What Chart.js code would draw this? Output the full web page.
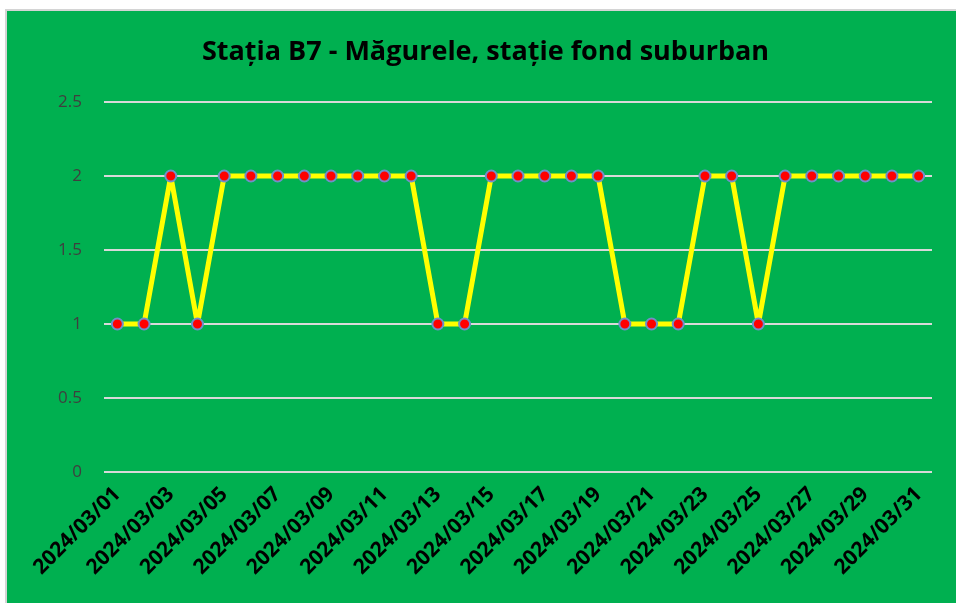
<!DOCTYPE html>
<html><head><meta charset="utf-8">
<script src="https://cdn.jsdelivr.net/npm/chart.js@4/dist/chart.umd.min.js"></script>
<style>
html,body{margin:0;padding:0;background:#fff;width:956px;height:603px;overflow:hidden}
#wrap{position:absolute;left:5px;top:9px;width:949px;height:592px;border-left:2px solid #d4d4d4;border-top:2px solid #d4d4d4;background:#00B050}
canvas{display:block}
</style></head><body>
<div id="wrap"><canvas id="c" width="949" height="592"></canvas></div>
<script>
const titleText = "Stația B7 - Măgurele, stație fond suburban";
const categories = ["2024/03/01","2024/03/02","2024/03/03","2024/03/04","2024/03/05","2024/03/06","2024/03/07","2024/03/08","2024/03/09","2024/03/10","2024/03/11","2024/03/12","2024/03/13","2024/03/14","2024/03/15","2024/03/16","2024/03/17","2024/03/18","2024/03/19","2024/03/20","2024/03/21","2024/03/22","2024/03/23","2024/03/24","2024/03/25","2024/03/26","2024/03/27","2024/03/28","2024/03/29","2024/03/30","2024/03/31"];
const values = [1,1,2,1,2,2,2,2,2,2,2,2,1,1,2,2,2,2,2,1,1,1,2,2,1,2,2,2,2,2,2];
const yTicks = [0,0.5,1,1.5,2,2.5];

const shiftTitle = {
  id: 'shiftTitle',
  afterLayout(chart) {
    if (chart.titleBlock) { chart.titleBlock.right += 32; }
  }
};

new Chart(document.getElementById('c'), {
  type: 'line',
  data: { labels: categories, datasets: [{
    data: values,
    borderColor: '#FFFF00',
    borderWidth: 5,
    borderJoinStyle: 'round',
    borderCapStyle: 'round',
    pointBackgroundColor: '#FF0000',
    pointBorderColor: '#6F8FC9',
    pointBorderWidth: 2,
    pointRadius: 5.5,
    tension: 0
  }]},
  options: {
    responsive: false,
    animation: false,
    layout: { padding: { left: 0, right: 24, top: 0, bottom: 0 } },
    plugins: {
      legend: { display: false },
      tooltip: { enabled: false },
      title: {
        display: true, text: titleText, color: '#000',
        font: { family: '"Open Sans",sans-serif', size: 27, weight: 'bold', lineHeight: 1.2 },
        padding: { top: 25, bottom: 33.6 }
      }
    },
    scales: {
      x: {
        offset: true,
        grid: { display: false, drawTicks: false },
        border: { display: false },
        ticks: {
          autoSkip: false, maxRotation: 45, minRotation: 45, padding: 10,
          color: '#000',
          font: { family: '"Open Sans",sans-serif', size: 21, weight: 'bold' },
          callback: function(v, i) { return i % 2 === 0 ? categories[i] : ''; }
        },
        afterFit: function(s) { s.height = 131; }
      },
      y: {
        min: 0, max: 2.5,
        afterBuildTicks: function(s) { s.ticks = yTicks.map(v => ({ value: v })); },
        grid: { color: '#D9D9D9', lineWidth: 2, drawTicks: false },
        border: { display: false },
        ticks: {
          padding: 22, color: '#3F3F3F',
          font: { family: '"Open Sans",sans-serif', size: 17 },
          callback: function(v) { return String(v); }
        },
        afterFit: function(s) { s.width = 97; }
      }
    }
  },
  plugins: [shiftTitle]
});
</script>
</body></html>
